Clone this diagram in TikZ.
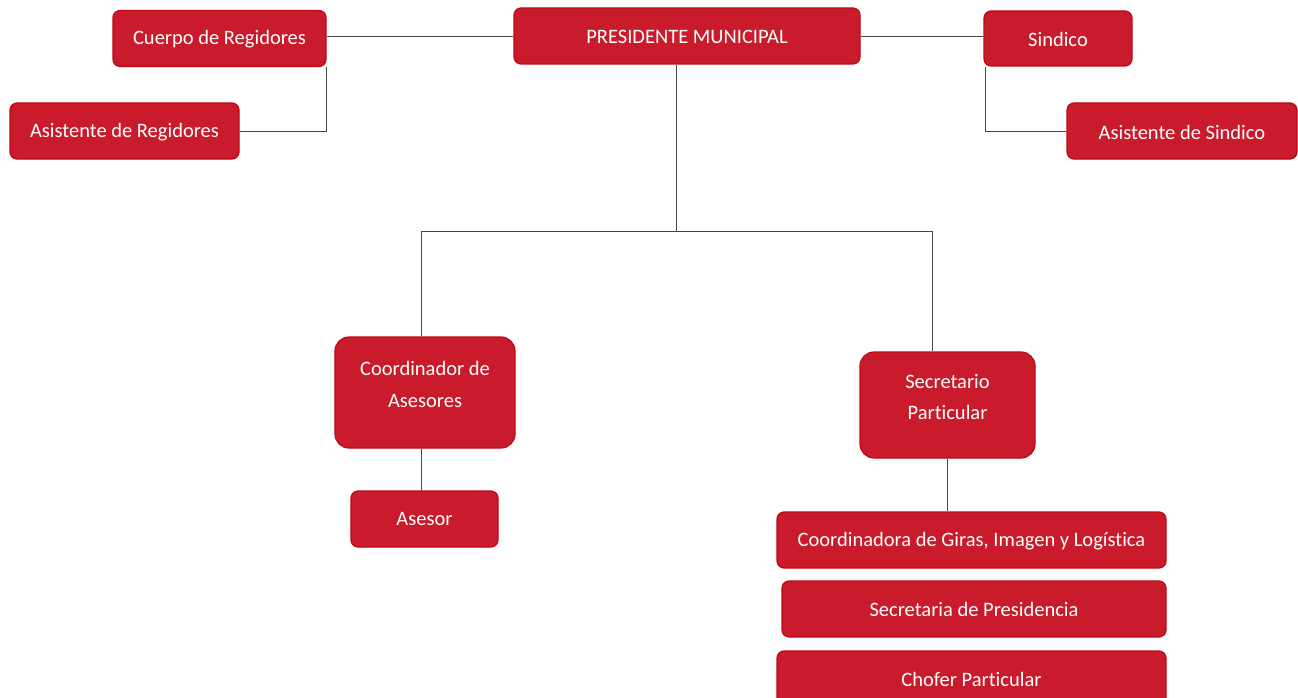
\documentclass[tikz,border=0pt]{standalone}
\usepackage{fontspec}
\setmainfont{Carlito}[Ligatures={TeX,NoCommon}]
\definecolor{boxred}{RGB}{201,27,43}
\definecolor{boxedge}{RGB}{190,8,20}
\definecolor{linegray}{RGB}{70,70,70}
\tikzset{
  box/.style={draw=boxedge, fill=boxred, line width=1.2pt, rounded corners=7pt,
    text=white, font=\fontsize{20.5}{24}\selectfont, inner sep=0pt, align=center},
  bigbox/.style={box, rounded corners=14pt},
  conn/.style={draw=linegray, line width=0.9pt}
}
\begin{document}
\begin{tikzpicture}[x=1pt,y=-1pt]
\useasboundingbox (0,0) rectangle (1298,698);
\node[box, minimum width=213pt, minimum height=56pt] (cuerpo) at (219.5,38.5) {};
\node[text=white, font=\fontsize{20.5}{24}\selectfont] (cuerpot) at (219.5,39.5) {Cuerpo de Regidores};
\node[box, minimum width=229pt, minimum height=56pt] (asreg) at (124.5,131) {};
\node[text=white, font=\fontsize{20.5}{24}\selectfont] (asregt) at (124.5,132) {Asistente de Regidores};
\node[box, minimum width=346pt, minimum height=56pt] (pres) at (687,36) {};
\node[text=white, font=\fontsize{20.5}{24}\selectfont] (prest) at (687,36.5) {PRESIDENTE MUNICIPAL};
\node[box, minimum width=148pt, minimum height=55pt] (sind) at (1058,38.5) {};
\node[text=white, font=\fontsize{20.5}{24}\selectfont] (sindt) at (1058,39.5) {Sindico};
\node[box, minimum width=230pt, minimum height=56pt] (assind) at (1182,131) {};
\node[text=white, font=\fontsize{20.5}{24}\selectfont] (assindt) at (1182,132) {Asistente de Sindico};
\node[bigbox, minimum width=180pt, minimum height=111pt] (coord) at (425,392.5) {};
\node[text=white, font=\fontsize{20.5}{32}\selectfont, align=center] (coordt) at (425,384) {Coordinador de\\Asesores};
\node[box, minimum width=147pt, minimum height=56pt] (asesor) at (424.5,519) {Asesor};
\node[bigbox, minimum width=175pt, minimum height=106pt] (secr) at (947.5,405) {};
\node[text=white, font=\fontsize{20.5}{31}\selectfont, align=center] (secrt) at (947.5,397) {Secretario\\Particular};
\node[box, minimum width=389pt, minimum height=56pt] (giras) at (971.5,540) {};
\node[text=white, font=\fontsize{20.5}{24}\selectfont] (girast) at (971.5,541) {Coordinadora de Giras, Imagen y Logística};
\node[box, minimum width=384pt, minimum height=56pt] (secpres) at (974,609) {Secretaria de Presidencia};
\node[box, minimum width=389pt, minimum height=56pt] (chofer) at (971.5,679) {};
\node[text=white, font=\fontsize{20.5}{24}\selectfont] (chofert) at (971.5,679) {Chofer Particular};
\coordinate (pj) at (676,231);
\coordinate (lj) at (421,231);
\coordinate (rj) at (932,231);
\draw[conn] (pres.west) -- (pres.west -| cuerpo.east);
\draw[conn] (cuerpo.south east) -- (cuerpo.south east |- asreg.east) -- (asreg.east);
\draw[conn] (pres.east) -- (pres.east -| sind.west);
\draw[conn] ([xshift=2pt]sind.south west) -- ([xshift=2pt]sind.south west |- assind.west) -- (assind.west);
\draw[conn] (pres.south -| pj) -- (pj);
\draw[conn] (lj) -- (rj);
\draw[conn] (lj) -- (lj |- coord.north);
\draw[conn] (rj) -- (rj |- secr.north);
\draw[conn] (lj |- coord.south) -- (lj |- asesor.north);
\draw[conn] (secr.south) -- (secr.south |- giras.north);
\end{tikzpicture}
\end{document}
